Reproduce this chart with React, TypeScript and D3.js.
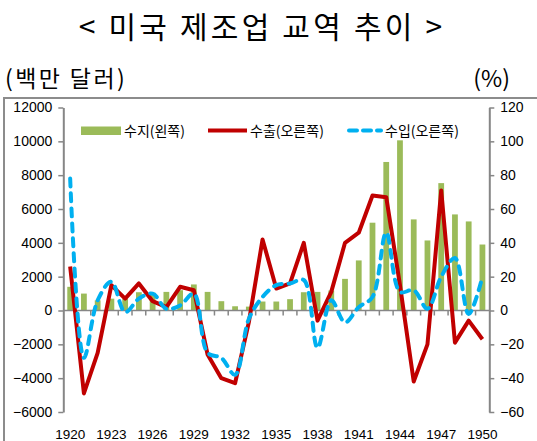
import React, { useRef, useEffect } from "react";
import * as d3 from "d3";

const years = [
  "1920", "1921", "1922", "1923", "1924", "1925", "1926", "1927", "1928", "1929",
  "1930", "1931", "1932", "1933", "1934", "1935", "1936", "1937", "1938", "1939",
  "1940", "1941", "1942", "1943", "1944", "1945", "1946", "1947", "1948", "1949",
  "1950",
];
const tickYears = ["1920", "1923", "1926", "1929", "1932", "1935", "1938", "1941", "1944", "1947", "1950"];

// 수지 (백만 달러, left axis)
const balance = [
  1400, 1000, 600, 700, 700, 1080, 1050, 1100, 1200, 1540,
  1100, 550, 250, 230, 530, 530, 670, 1080, 1100, 1180,
  1870, 2960, 5190, 8780, 10060, 5385, 4140, 7530, 5680, 5265,
  3900,
];
// 수출 증가율 (%, right axis)
const exportsPct = [
  26, -49, -25, 15, 7, 16, 5.5, 2, 14, 12,
  -26, -40, -43, -7, 42, 13, 16, 40, -6, 11,
  40, 46, 68, 67, 15, -42, -20, 71, -19, -6,
  -17,
];
// 수입 증가율 (%, right axis)
const importsPct = [
  78, -28, 6, 17, -1, 7, 10, 1, 3, 10,
  -25, -28, -38, -5, 8, 15, 16, 18, -22, 6,
  -7, 2, 8, 46, 11, 12, 1, 20, 31, -2,
  20,
];
const leftTicks = [12000, 10000, 8000, 6000, 4000, 2000, 0, -2000, -4000, -6000];
const rightTicks = [120, 100, 80, 60, 40, 20, 0, -20, -40, -60];

const App = () => {
  const ref = useRef<SVGSVGElement>(null);

  useEffect(() => {
    const svg = d3.select(ref.current);
    svg.selectAll("*").remove();

    const W = 537;
    const H = 441;
    svg.attr("width", W).attr("height", H);

    const axisColor = "#868686";
    const left = 63.3;
    const right = 489.3;
    const top = 107.5;
    const bottom = 412;

    // frame
    svg.append("rect")
      .attr("x", 4).attr("y", 98)
      .attr("width", 600).attr("height", 400)
      .attr("fill", "none").attr("stroke", "#8c8c8c").attr("stroke-width", 2);

    // titles
    svg.append("text")
      .attr("x", 262).attr("y", 38)
      .attr("text-anchor", "middle")
      .attr("font-family", "'Noto Sans CJK KR'")
      .attr("font-size", 30)
      .attr("letter-spacing", 3.2)
      .attr("fill", "#000")
      .text("< 미국 제조업 교역 추이 >");
    svg.append("text")
      .attr("x", 5).attr("y", 87)
      .attr("font-family", "'Noto Sans CJK KR'")
      .attr("font-size", 23)
      .attr("letter-spacing", 2.4)
      .attr("fill", "#000")
      .text("(백만 달러)");
    svg.append("text")
      .attr("x", 510).attr("y", 87)
      .attr("text-anchor", "end")
      .attr("font-family", "'Noto Sans CJK KR'")
      .attr("font-size", 23)
      .attr("fill", "#000")
      .text("(%)");

    const x = d3.scaleBand().domain(years).range([left, right]).padding(0);
    const cx = (y: string) => (x(y) as number) + x.bandwidth() / 2;
    const yL = d3.scaleLinear().domain([-6000, 12000]).range([bottom, top]);
    const yR = d3.scaleLinear().domain([-60, 120]).range([bottom, top]);

    // bars
    const bw = x.bandwidth() * 0.42;
    svg.append("g")
      .selectAll("rect")
      .data(balance)
      .enter()
      .append("rect")
      .attr("x", (d, i) => cx(years[i]) - bw / 2)
      .attr("y", (d) => yL(Math.max(0, d)))
      .attr("width", bw)
      .attr("height", (d) => Math.abs(yL(d) - yL(0)))
      .attr("fill", "#9BBB59");

    // zero axis with category ticks
    const zg = svg.append("g");
    zg.append("line")
      .attr("x1", left).attr("x2", right)
      .attr("y1", yL(0)).attr("y2", yL(0))
      .attr("stroke", axisColor).attr("stroke-width", 1.5);
    zg.selectAll("line.t")
      .data(years.slice(1))
      .enter()
      .append("line")
      .attr("class", "t")
      .attr("x1", (d) => x(d) as number)
      .attr("x2", (d) => x(d) as number)
      .attr("y1", yL(0))
      .attr("y2", yL(0) + 5)
      .attr("stroke", axisColor).attr("stroke-width", 1.5);

    // left axis
    const la = svg.append("g")
      .attr("transform", `translate(${left},0)`)
      .call(d3.axisLeft(yL).tickValues(leftTicks).tickFormat(d3.format("d")).tickSize(5).tickSizeOuter(0).tickPadding(6));
    la.select(".domain").attr("stroke", axisColor).attr("stroke-width", 2);
    la.selectAll(".tick line").attr("stroke", axisColor).attr("stroke-width", 1.5);
    la.selectAll(".tick text")
      .attr("font-family", "'Liberation Sans', Arial, sans-serif")
      .attr("font-size", 14)
      .attr("fill", "#000");

    // right axis
    const ra = svg.append("g")
      .attr("transform", `translate(${right},0)`)
      .call(d3.axisRight(yR).tickValues(rightTicks).tickFormat(d3.format("d")).tickSize(5).tickSizeOuter(0).tickPadding(6));
    ra.select(".domain").attr("stroke", axisColor).attr("stroke-width", 2);
    ra.selectAll(".tick line").attr("stroke", axisColor).attr("stroke-width", 1.5);
    ra.selectAll(".tick text")
      .attr("font-family", "'Liberation Sans', Arial, sans-serif")
      .attr("font-size", 14)
      .attr("fill", "#000");

    // year labels
    svg.append("g")
      .selectAll("text")
      .data(tickYears)
      .enter()
      .append("text")
      .attr("x", (d) => cx(d))
      .attr("y", 439)
      .attr("text-anchor", "middle")
      .attr("font-family", "'Liberation Sans', Arial, sans-serif")
      .attr("font-size", 13.5)
      .attr("fill", "#000")
      .text((d) => d);

    // lines
    const exportLine = d3.line<number>()
      .x((d, i) => cx(years[i]))
      .y((d) => yR(d));
    svg.append("path")
      .datum(exportsPct)
      .attr("d", exportLine)
      .attr("fill", "none")
      .attr("stroke", "#C00000")
      .attr("stroke-width", 4)
      .attr("stroke-linejoin", "round");

    const importLine = d3.line<number>()
      .x((d, i) => cx(years[i]))
      .y((d) => yR(d))
      .curve(d3.curveCatmullRom.alpha(0.5));
    svg.append("path")
      .datum(importsPct)
      .attr("d", importLine)
      .attr("fill", "none")
      .attr("stroke", "#00B0F0")
      .attr("stroke-width", 4)
      .attr("stroke-dasharray", "8,7")
      .attr("stroke-linecap", "round");

    // legend
    const lg = svg.append("g")
      .attr("font-family", "'Noto Sans CJK KR'")
      .attr("font-size", 14)
      .attr("fill", "#000");
    lg.append("rect")
      .attr("x", 81).attr("y", 126.5).attr("width", 40).attr("height", 8.5)
      .attr("fill", "#9BBB59");
    lg.append("text").attr("x", 124).attr("y", 136).text("수지(왼쪽)");
    lg.append("line")
      .attr("x1", 208).attr("x2", 247).attr("y1", 130.5).attr("y2", 130.5)
      .attr("stroke", "#C00000").attr("stroke-width", 4);
    lg.append("text").attr("x", 250).attr("y", 136).text("수출(오른쪽)");
    lg.append("line")
      .attr("x1", 349).attr("x2", 381).attr("y1", 130.5).attr("y2", 130.5)
      .attr("stroke", "#00B0F0").attr("stroke-width", 4)
      .attr("stroke-dasharray", "8,6").attr("stroke-linecap", "round");
    lg.append("text").attr("x", 385).attr("y", 136).text("수입(오른쪽)");
  }, []);

  return (
    <svg
      ref={ref}
      style={{ position: "absolute", left: 0, top: 0, display: "block", background: "#fff" }}
    />
  );
};

export default App;
